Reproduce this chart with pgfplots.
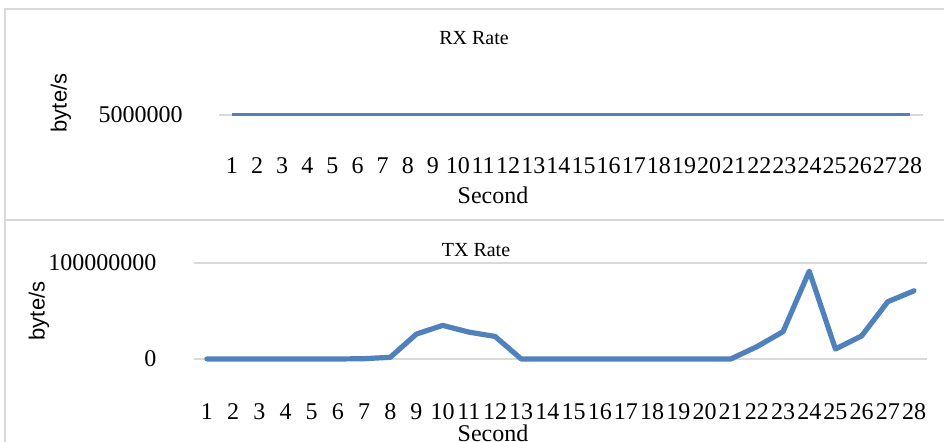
\documentclass[border=0pt]{standalone}
\usepackage{fontspec}
\setmainfont{Liberation Serif}
\newfontfamily\arial{Liberation Sans}
\usepackage{pgfplots}
\pgfplotsset{compat=1.18}
\definecolor{xlblue}{RGB}{79,129,189}
\definecolor{xlgrid}{RGB}{217,217,217}
\begin{document}
\begin{tikzpicture}
\begin{scope}[x=0.5pt,y=0.5pt]
\useasboundingbox (0,0) rectangle (944,442);
\clip (0,0) rectangle (944,442);
% panel borders
\draw[xlgrid, line width=1pt] (5,-10) -- (5,433) -- (960,433);
\draw[xlgrid, line width=1pt] (5,222) -- (960,222);
\node[font=\fontsize{10}{12}\selectfont] at (474,404) {RX Rate};
\node[font=\fontsize{12}{14}\selectfont] at (493,247) {Second};
\node[font=\arial\fontsize{11}{13}\selectfont, rotate=90] at (61,339) {byte/s};
\node[font=\fontsize{10}{12}\selectfont] at (476,192) {TX Rate};
\node[font=\fontsize{12}{14}\selectfont] at (493,9) {Second};
\node[font=\arial\fontsize{11}{13}\selectfont, rotate=90] at (39,131) {byte/s};
\end{scope}
\pgfplotsset{
  /pgf/number format/assume math mode=true,
  every axis/.append style={
    scale only axis, axis line style={draw=none}, clip=false,
    scaled y ticks=false, scaled x ticks=false,
    xmin=0.5, xmax=28.5, xtick={1,...,28},
    tick style={draw=none},
    ymajorgrids, major grid style={xlgrid, line width=0.9pt},
    ticklabel style={font=\fontsize{12}{14}\selectfont, inner sep=0pt},
  }
}
% ---------------- RX ----------------
\begin{axis}[at={(109.7pt,146pt)}, anchor=south west,
  width=351.6pt, height=35pt,
  ymin=0, ymax=10000000,
  ytick={5000000}, yticklabels={5000000},
  yticklabel style={anchor=east, xshift=-18.2pt},
  xticklabel style={anchor=center, yshift=-8pt},
]
\addplot[xlblue, line width=1.5pt] coordinates {
(1,5000000)(2,5000000)(3,5000000)(4,5000000)(5,5000000)(6,5000000)(7,5000000)
(8,5000000)(9,5000000)(10,5000000)(11,5000000)(12,5000000)(13,5000000)(14,5000000)
(15,5000000)(16,5000000)(17,5000000)(18,5000000)(19,5000000)(20,5000000)(21,5000000)
(22,5000000)(23,5000000)(24,5000000)(25,5000000)(26,5000000)(27,5000000)(28,5000000)
};
\end{axis}
% ---------------- TX ----------------
\begin{axis}[at={(96.95pt,41.5pt)}, anchor=south west,
  width=366.6pt, height=48pt,
  ymin=0, ymax=100000000,
  ytick={0,100000000}, yticklabels={0,100000000},
  yticklabel style={anchor=east, xshift=-18.5pt},
  xticklabel style={anchor=center, yshift=-26.5pt},
]
\addplot[xlblue, line width=2.6pt, line join=round, line cap=round] coordinates {
(1,0)(2,0)(3,0)(4,0)(5,0)(6,0)(7,300000)(8,1800000)(9,26000000)(10,35000000)
(11,28000000)(12,23500000)(13,0)(14,0)(15,0)(16,0)(17,0)(18,0)(19,0)(20,0)(21,0)
(22,12800000)(23,28500000)(24,91500000)(25,10400000)(26,24000000)(27,59700000)(28,71000000)
};
\end{axis}
\end{tikzpicture}
\end{document}
